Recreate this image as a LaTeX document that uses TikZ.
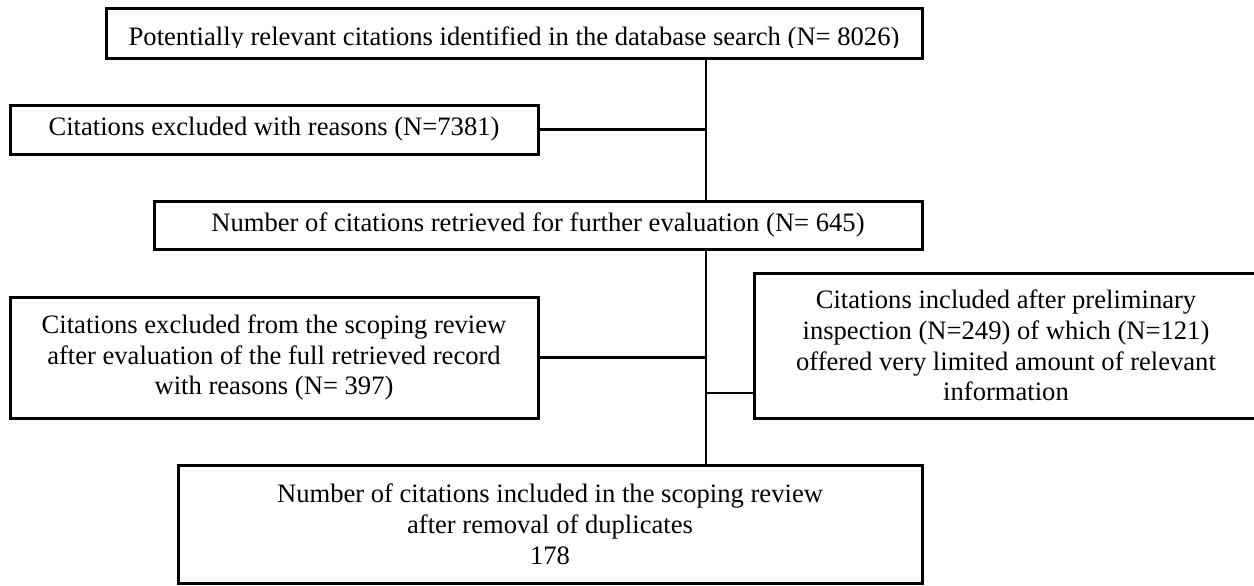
\documentclass[tikz,border=0pt]{standalone}
\usepackage{fontspec}
\setmainfont{Liberation Serif}
\begin{document}
\begin{tikzpicture}[x=0.5pt,y=-0.5pt,
  box/.style={draw=black, line width=1.5pt, fill=white, inner sep=0pt, align=center,
              font=\fontsize{13.3pt}{15.4pt}\selectfont},
  txt/.style={inner sep=0pt, font=\fontsize{13.3pt}{15.4pt}\selectfont},
  link/.style={draw=black, line width=1.3pt}]
\useasboundingbox[fill=white] (0,0) rectangle (1254,585);

% trunk of the flow
\coordinate (spine) at (706,0);

% boxes
\node[box, minimum width=408pt, minimum height=25pt] (n1) at (514,33) {};
\node[box, minimum width=264pt, minimum height=24.5pt] (n2) at (274,129.5)
  {Citations excluded with reasons (N=7381)};
\node[box, minimum width=384pt, minimum height=24pt] (n3) at (538,225)
  {Number of citations retrieved for further evaluation (N= 645)};
\node[box, minimum width=264pt, minimum height=60.5pt] (n4) at (274,357.5)
  {Citations excluded from the scoping review\\after evaluation of the full retrieved record\\with reasons (N= 397)};
\node[box, minimum width=252pt, minimum height=72.5pt] (n5) at (1006,345.5)
  {Citations included after preliminary\\inspection (N=249) of which (N=121)\\offered very limited amount of relevant\\information};
\node[box, minimum width=372pt, minimum height=59pt] (n6) at (550,524)
  {Number of citations included in the scoping review\\after removal of duplicates\\178};

% top caption, cut off just under its baseline
\begin{scope}
  \clip (108,10) rectangle (920,47);
  \node[txt, anchor=base] (t1) at (514,45)
    {Potentially relevant citations identified in the database search (N= 8026)};
\end{scope}

% connectors
\coordinate (j5) at (706,393);
\draw[link] (n1.south -| spine) -- (n3.north -| spine);
\draw[link] (n3.south -| spine) -- (n6.north -| spine);
\draw[link] (n2.east) -- (n2.east -| spine);
\draw[link] (n4.east) -- (n4.east -| spine);
\draw[link] (j5) -- (j5 -| n5.west);
\end{tikzpicture}
\end{document}
